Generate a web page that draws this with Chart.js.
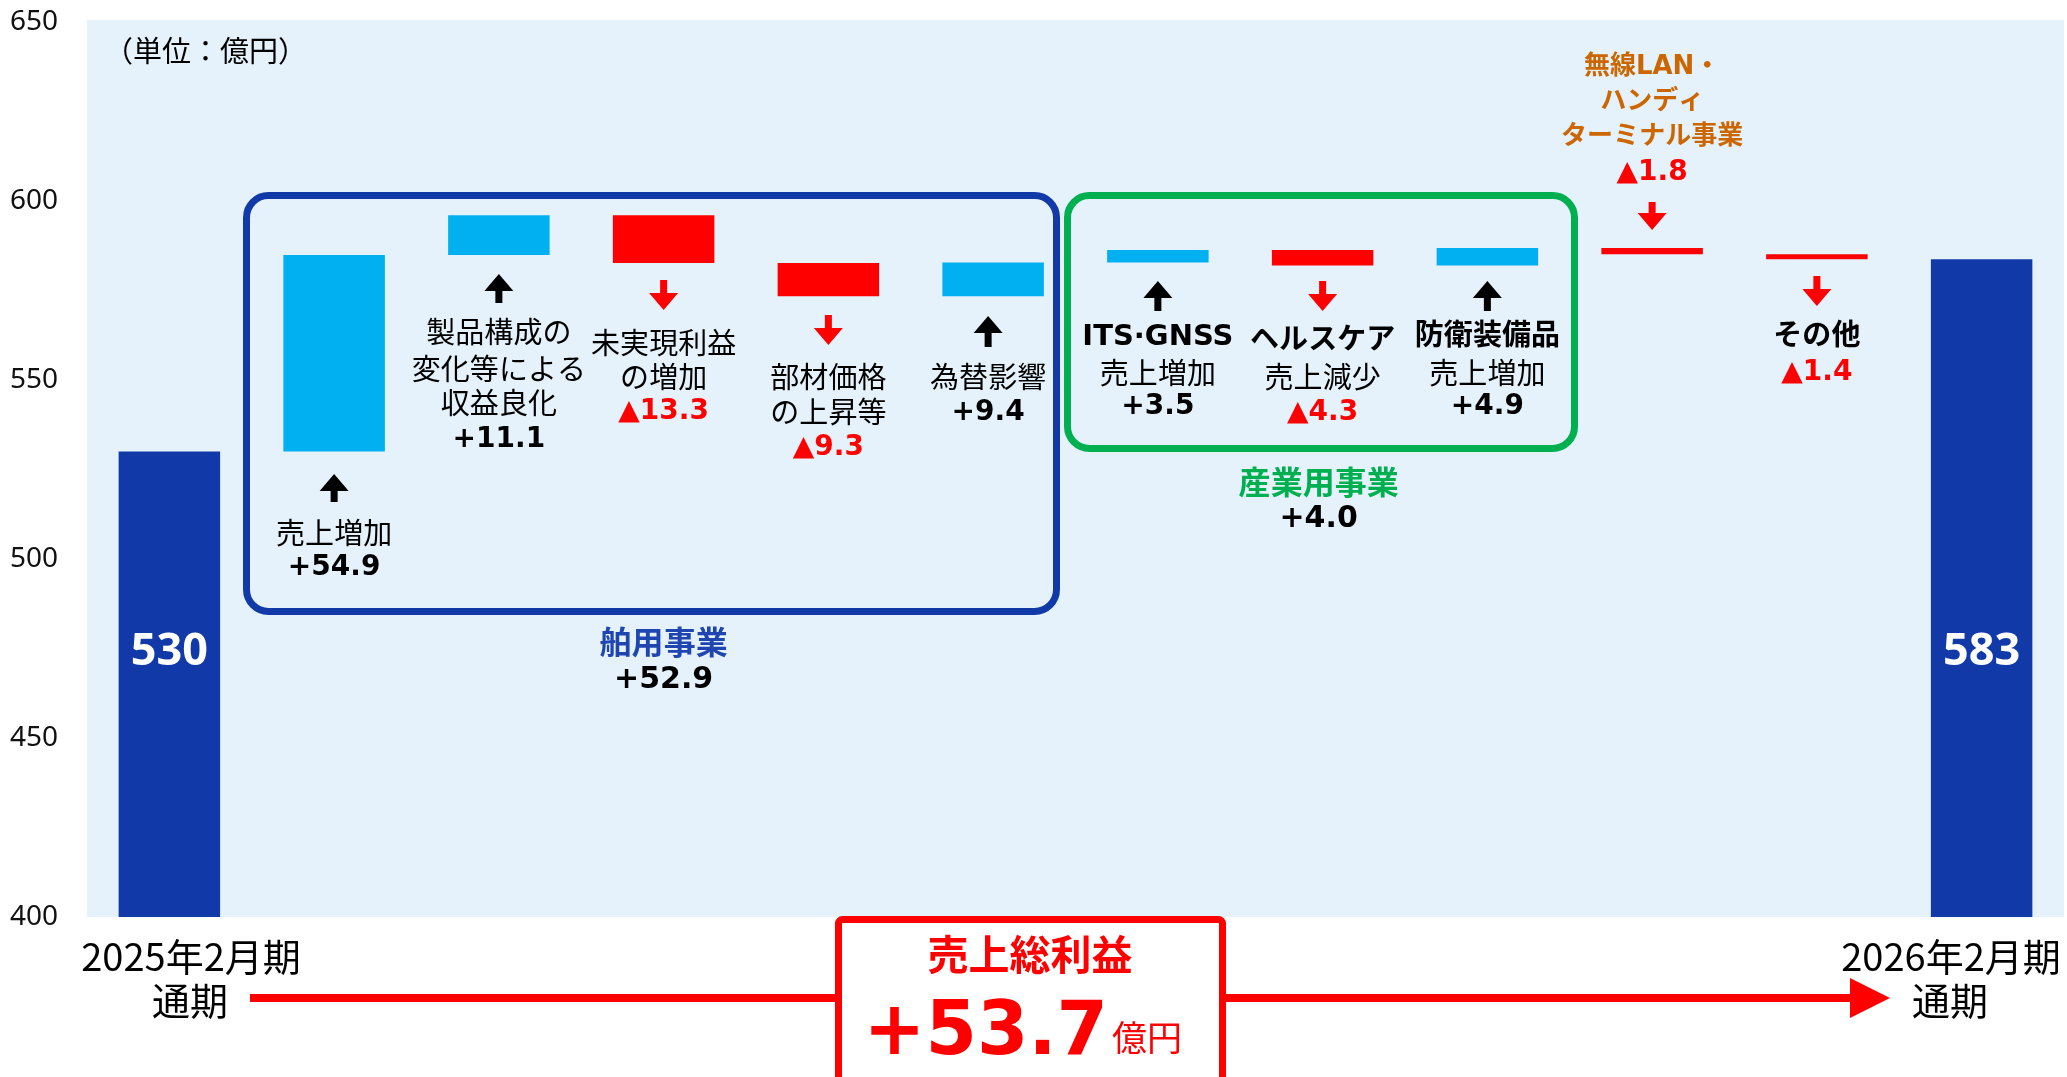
<!DOCTYPE html>
<html>
<head>
<meta charset="utf-8">
<script src="https://cdn.jsdelivr.net/npm/chart.js@4.4.1/dist/chart.umd.min.js"></script>
<style>
  html, body { margin: 0; padding: 0; background: #fff; }
</style>
</head>
<body>
<canvas id="chart" width="2067" height="1077"></canvas>
<script>
// categories, split into the lines shown on the picture
const categories = [
  ["2025年2月期", "通期"],
  ["売上増加"],
  ["製品構成の", "変化等による", "収益良化"],
  ["未実現利益", "の増加"],
  ["部材価格", "の上昇等"],
  ["為替影響"],
  ["ITS·GNSS", "売上増加"],
  ["ヘルスケア", "売上減少"],
  ["防衛装備品", "売上増加"],
  ["無線LAN・", "ハンディ", "ターミナル事業"],
  ["その他"],
  ["2026年2月期", "通期"]
];
const startValue = 530;
const changes = [54.9, 11.1, -13.3, -9.3, 9.4, 3.5, -4.3, 4.9, -1.8, -1.4];
const endValue = 583.7;
const totalLabels = ["530", "583"];
const segmentNames = ["舶用事業", "産業用事業"];
const segmentTotals = [52.9, 4.0];
const grossProfitChange = 53.7;
const yMin = 400, yMax = 650, yStep = 50;

const NAVY = "#113AA8", CYAN = "#00B0F0", RED = "#FF0000";
const GREEN = "#00B050", ORANGE = "#CC6600";
const JP = '"Noto Sans CJK JP"';
const LAT = '"DejaVu Sans", "Noto Sans CJK JP"';

// waterfall ranges
const ranges = [[yMin, startValue]];
const colors = [NAVY];
let level = startValue;
changes.forEach(c => {
  ranges.push([level, level + c]);
  colors.push(c >= 0 ? CYAN : RED);
  level += c;
});
ranges.push([yMin, endValue]);
colors.push(NAVY);

function fmt(v) {
  return (v >= 0 ? "+" : "▲") + Math.abs(v).toFixed(1);
}

// label layout: arrow span and text line centres (px)
const notes = [
  { i: 1, arrow: [474, 502], ys: [533, 568] },
  { i: 2, arrow: [274, 303], ys: [332, 369, 403, 440] },
  { i: 3, arrow: [280, 310], ys: [343, 377, 412] },
  { i: 4, arrow: [315, 345], ys: [377, 412, 448] },
  { i: 5, arrow: [316, 347], ys: [377, 413], dx: -5 },
  { i: 6, arrow: [281, 311], ys: [337, 373, 407], head: "bold" },
  { i: 7, arrow: [281, 311], ys: [341, 377, 413], head: "bold" },
  { i: 8, arrow: [281, 311], ys: [337, 373, 407], head: "bold" },
  { i: 9, arrow: [202, 230], ys: [67, 102, 137, 173], head: "orange" },
  { i: 10, arrow: [276, 306], ys: [337, 373], head: "bold" }
];

function text(ctx, s, x, y, font, color, align, base) {
  ctx.font = font;
  ctx.fillStyle = color;
  ctx.textAlign = align || "center";
  ctx.textBaseline = base || "middle";
  ctx.fillText(s, x, y);
}

function arrow(ctx, x, y0, y1, up, color) {
  const hw = 14.5, hl = 17, sw = 3.5;
  ctx.fillStyle = color;
  ctx.beginPath();
  if (up) {
    ctx.moveTo(x, y0);
    ctx.lineTo(x + hw, y0 + hl);
    ctx.lineTo(x + sw, y0 + hl);
    ctx.lineTo(x + sw, y1);
    ctx.lineTo(x - sw, y1);
    ctx.lineTo(x - sw, y0 + hl);
    ctx.lineTo(x - hw, y0 + hl);
  } else {
    ctx.moveTo(x, y1);
    ctx.lineTo(x + hw, y1 - hl);
    ctx.lineTo(x + sw, y1 - hl);
    ctx.lineTo(x + sw, y0);
    ctx.lineTo(x - sw, y0);
    ctx.lineTo(x - sw, y1 - hl);
    ctx.lineTo(x - hw, y1 - hl);
  }
  ctx.closePath();
  ctx.fill();
}

function roundBox(ctx, x0, y0, x1, y1, r, color, w) {
  ctx.save();
  ctx.strokeStyle = color;
  ctx.lineWidth = w;
  ctx.beginPath();
  ctx.roundRect(x0, y0, x1 - x0, y1 - y0, r);
  ctx.stroke();
  ctx.restore();
}

const plotBg = {
  id: "plotBg",
  beforeDraw(chart) {
    const { ctx, chartArea: a } = chart;
    ctx.save();
    ctx.fillStyle = "#E5F2FB";
    ctx.fillRect(a.left, a.top - 2, a.right - a.left, a.bottom - a.top + 2);
    ctx.restore();
  }
};

const labels = {
  id: "labels",
  afterDatasetsDraw(chart) {
    const { ctx } = chart;
    const xs = chart.scales.x;
    ctx.save();

    text(ctx, "（単位：億円）", 104, 51, `29px ${JP}`, "#000", "left");

    // totals inside the navy bars
    text(ctx, totalLabels[0], xs.getPixelForValue(0), 652, 'bold 45px "Noto Sans"', "#fff");
    text(ctx, totalLabels[1], xs.getPixelForValue(categories.length - 1), 652, 'bold 45px "Noto Sans"', "#fff");

    // segment boxes
    roundBox(ctx, 246.5, 195.5, 1056.5, 611.5, 22, NAVY, 7);
    roundBox(ctx, 1067.5, 195.5, 1574.5, 448.5, 22, GREEN, 7);

    notes.forEach(n => {
      const v = changes[n.i - 1];
      const x = xs.getPixelForValue(n.i) + (n.dx || 0);
      arrow(ctx, x, n.arrow[0], n.arrow[1], v >= 0, v >= 0 ? "#000" : RED);
      const lines = categories[n.i];
      lines.forEach((s, k) => {
        let font = `29px ${JP}`, col = "#000";
        if (n.head === "bold" && k === 0) font = `bold 29px ${LAT}`;
        if (n.head === "orange") { font = `bold 26px ${LAT}`; col = ORANGE; }
        text(ctx, s, x, n.ys[k], font, col);
      });
      text(ctx, fmt(v), x, n.ys[lines.length], 'bold 28px "DejaVu Sans"', v >= 0 ? "#000" : RED);
    });

    // segment names
    const mx = xs.getPixelForValue(3), ix = xs.getPixelForValue(7) - 4;
    text(ctx, segmentNames[0], mx, 642, `bold 32px ${JP}`, "#1F45B0");
    text(ctx, fmt(segmentTotals[0]), mx, 680, 'bold 30px "DejaVu Sans"', "#000");
    text(ctx, segmentNames[1], ix, 482, `bold 32px ${JP}`, GREEN);
    text(ctx, fmt(segmentTotals[1]), ix, 519, 'bold 30px "DejaVu Sans"', "#000");

    // period labels
    text(ctx, categories[0][0], 191, 957, `38px ${JP}`, "#000");
    text(ctx, categories[0][1], 190, 1001, `38px ${JP}`, "#000");
    text(ctx, categories[11][0], 1951, 957, `38px ${JP}`, "#000");
    text(ctx, categories[11][1], 1950, 1001, `38px ${JP}`, "#000");

    // bottom red arrow
    ctx.fillStyle = RED;
    ctx.fillRect(250, 994, 1602, 8);
    ctx.beginPath();
    ctx.moveTo(1850, 978);
    ctx.lineTo(1890, 998);
    ctx.lineTo(1850, 1018);
    ctx.closePath();
    ctx.fill();

    // gross profit box
    ctx.fillStyle = "#fff";
    ctx.fillRect(838, 919, 385, 170);
    ctx.strokeStyle = RED;
    ctx.lineWidth = 7;
    ctx.beginPath();
    ctx.roundRect(838.5, 919.5, 384, 170, 4);
    ctx.stroke();
    text(ctx, "売上総利益", 1030, 954, `bold 41px ${JP}`, RED);
    text(ctx, fmt(grossProfitChange), 1108, 1054, 'bold 74px "DejaVu Sans"', RED, "right", "alphabetic");
    text(ctx, "億円", 1112, 1051, `35px ${JP}`, RED, "left", "alphabetic");

    ctx.restore();
  }
};

new Chart(document.getElementById("chart"), {
  type: "bar",
  data: {
    labels: categories,
    datasets: [{
      data: ranges,
      backgroundColor: colors,
      borderWidth: 0,
      borderSkipped: false,
      barPercentage: 0.616,
      categoryPercentage: 1
    }]
  },
  options: {
    responsive: false,
    devicePixelRatio: 1,
    animation: false,
    layout: { padding: { left: 10, right: 3, top: 22, bottom: 160 } },
    plugins: { legend: { display: false }, tooltip: { enabled: false } },
    scales: {
      x: { display: false },
      y: {
        min: yMin,
        max: yMax,
        afterFit(scale) { scale.width = 77; },
        grid: { display: false, drawTicks: false },
        border: { display: false },
        ticks: {
          stepSize: yStep,
          padding: 0,
          crossAlign: "far",
          color: "#111",
          font: { family: "Noto Sans", size: 28 }
        }
      }
    }
  },
  plugins: [plotBg, labels]
});
</script>
</body>
</html>
